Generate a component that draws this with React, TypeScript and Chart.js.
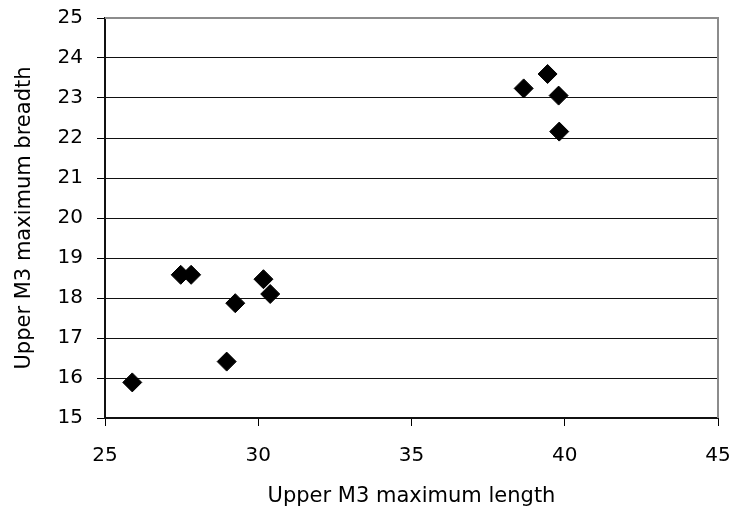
import React, { useEffect, useRef } from "react";
import { Chart, registerables } from "chart.js";

Chart.register(...registerables);

const lengths = [25.89, 28.97, 27.47, 27.81, 29.25, 30.17, 30.39, 38.66, 39.44, 39.8, 39.82];
const breadths = [15.89, 16.41, 18.58, 18.58, 17.87, 18.47, 18.1, 23.24, 23.6, 23.06, 22.16];
const xTicks = [25, 30, 35, 40, 45];
const yTicks = [15, 16, 17, 18, 19, 20, 21, 22, 23, 24, 25];
const xTitle = "Upper M3 maximum length";
const yTitle = "Upper M3 maximum breadth";

const FONT = "'DejaVu Sans', Verdana, sans-serif";

const framePlugin = {
  id: "frame",
  afterDatasetsDraw(chart: any) {
    const { ctx, chartArea } = chart;
    ctx.save();
    ctx.strokeStyle = "#8c8c8c";
    ctx.lineWidth = 2;
    ctx.beginPath();
    ctx.moveTo(chartArea.left, chartArea.top);
    ctx.lineTo(chartArea.right, chartArea.top);
    ctx.lineTo(chartArea.right, chartArea.bottom);
    ctx.stroke();
    ctx.restore();
  },
};

const zeroPad = (s: any) => {
  s.paddingTop = 0;
  s.paddingBottom = 0;
  s.paddingLeft = 0;
  s.paddingRight = 0;
};

export default function App() {
  const ref = useRef<HTMLCanvasElement | null>(null);

  useEffect(() => {
    if (!ref.current) return;
    const points = lengths.map((x, i) => ({ x, y: breadths[i] }));
    const chart = new Chart(ref.current, {
      type: "scatter",
      data: {
        datasets: [
          {
            data: points,
            pointStyle: "rectRot",
            pointRadius: 9.5,
            pointHoverRadius: 9.5,
            backgroundColor: "#000",
            borderColor: "#000",
            borderWidth: 1,
            showLine: false,
          },
        ],
      },
      options: {
        animation: false,
        responsive: false,
        events: [],
        layout: { padding: { top: 18, right: 16, left: 0, bottom: 0 } },
        plugins: {
          legend: { display: false },
          tooltip: { enabled: false },
        },
        scales: {
          x: {
            type: "linear",
            min: 25,
            max: 45,
            afterBuildTicks: (s: any) => {
              s.ticks = xTicks.map((v) => ({ value: v }));
            },
            afterFit: (s: any) => {
              s.height = 97;
              zeroPad(s);
            },
            grid: {
              drawOnChartArea: false,
              drawTicks: true,
              tickLength: 8,
              tickColor: "#000",
              tickWidth: 1,
            },
            border: { display: true, color: "#111", width: 2 },
            ticks: {
              color: "#000",
              padding: 18,
              maxRotation: 0,
              font: { family: FONT, size: 20 },
            },
            title: {
              display: true,
              text: xTitle,
              color: "#000",
              font: { family: FONT, size: 21 },
              padding: { top: 0, bottom: 6 },
            },
          },
          y: {
            type: "linear",
            min: 15,
            max: 25,
            afterBuildTicks: (s: any) => {
              s.ticks = yTicks.map((v) => ({ value: v }));
            },
            afterFit: (s: any) => {
              s.width = 105;
              zeroPad(s);
            },
            grid: {
              color: (c: any) => (c.tick && c.tick.value === 25 ? "rgba(0,0,0,0)" : "#111"),
              lineWidth: 1,
              drawTicks: true,
              tickLength: 8,
              tickColor: "#000",
              tickWidth: 1,
            },
            border: { display: true, color: "#111", width: 2 },
            ticks: {
              color: "#000",
              padding: 14,
              font: { family: FONT, size: 20 },
            },
            title: {
              display: true,
              text: yTitle,
              color: "#000",
              font: { family: FONT, size: 21 },
              padding: { top: 12, bottom: 0 },
            },
          },
        },
      },
      plugins: [framePlugin],
    } as any);
    return () => chart.destroy();
  }, []);

  return (
    <div style={{ position: "fixed", left: 0, top: 0, width: 734, height: 515, background: "#fff" }}>
      <canvas ref={ref} width={734} height={515} style={{ width: 734, height: 515, display: "block" }} />
    </div>
  );
}
